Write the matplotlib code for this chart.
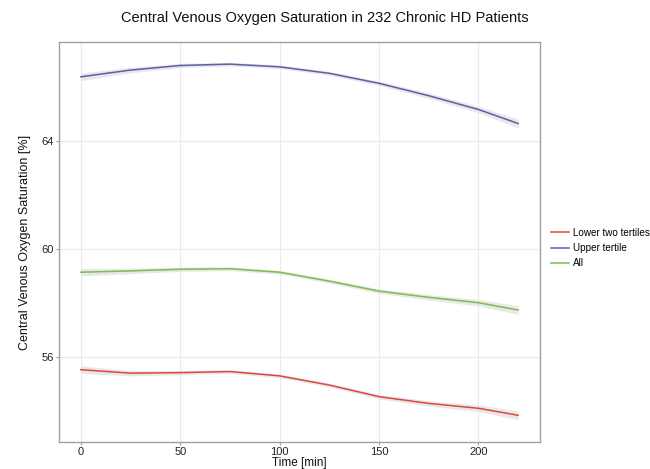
import matplotlib
matplotlib.use("Agg")
import matplotlib.pyplot as plt
import numpy as np

plt.rcParams['font.family'] = ['Liberation Sans', 'DejaVu Sans']

time = [0, 25, 50, 75, 100, 125, 150, 175, 200, 220]
lower = [55.53, 55.40, 55.42, 55.46, 55.30, 54.96, 54.53, 54.28, 54.10, 53.84]
upper = [66.38, 66.63, 66.80, 66.85, 66.75, 66.51, 66.14, 65.68, 65.17, 64.65]
all_ = [59.14, 59.19, 59.25, 59.27, 59.14, 58.81, 58.44, 58.21, 58.01, 57.74]
band = [0.14, 0.10, 0.08, 0.07, 0.07, 0.07, 0.08, 0.10, 0.12, 0.16]

series = [("Lower two tertiles", lower, "#E0473A"),
          ("Upper tertile", upper, "#5A60A8"),
          ("All", all_, "#7CBD4E")]

xticks = [0, 50, 100, 150, 200]
yticks = [56, 60, 64]

fig = plt.figure(figsize=(6.5, 4.69), dpi=100)
ax = fig.add_axes([59/650, 1-442/469, (540-59)/650, (442-42)/469])

t = np.array(time)
b = np.array(band)
handles = []
for name, vals, col in series:
    v = np.array(vals)
    ax.fill_between(t, v - b, v + b, color="#D9D9D9", alpha=0.6, lw=0)
    h, = ax.plot(t, v, color=col, lw=1.1, label=name)
    handles.append(h)

ax.set_xlim(-11, 231)
ax.set_ylim(52.85, 67.67)
ax.set_xticks(xticks)
ax.set_yticks(yticks)
ax.grid(True, color="#EBEBEB", lw=0.8)
ax.set_axisbelow(True)
for s in ax.spines.values():
    s.set_color("#A0A0A0")
    s.set_linewidth(1.0)
ax.tick_params(axis="both", colors="#A0A0A0", labelcolor="#222222",
               labelsize=8, length=2.5, width=0.8, pad=1.0)
ax.set_xlabel("Time [min]", fontsize=8.5, color="#111111", va="center")
ax.xaxis.set_label_coords(0.5, -(462.5 - 442) / 400, transform=ax.transAxes)
ax.set_ylabel("Central Venous Oxygen Saturation [%]", fontsize=9,
              labelpad=8, color="#111111")

fig.text(0.5, 1-18/469, "Central Venous Oxygen Saturation in 232 Chronic HD Patients",
         ha="center", va="center", fontsize=10.5, color="#111111")

leg = fig.legend(handles=handles, loc="center left",
                 bbox_to_anchor=(544/650, 1-248/469), frameon=False,
                 fontsize=7.1, handlelength=1.8, handletextpad=0.4,
                 labelspacing=0.55, borderpad=0.2)

fig.savefig("out.png", dpi=100)
